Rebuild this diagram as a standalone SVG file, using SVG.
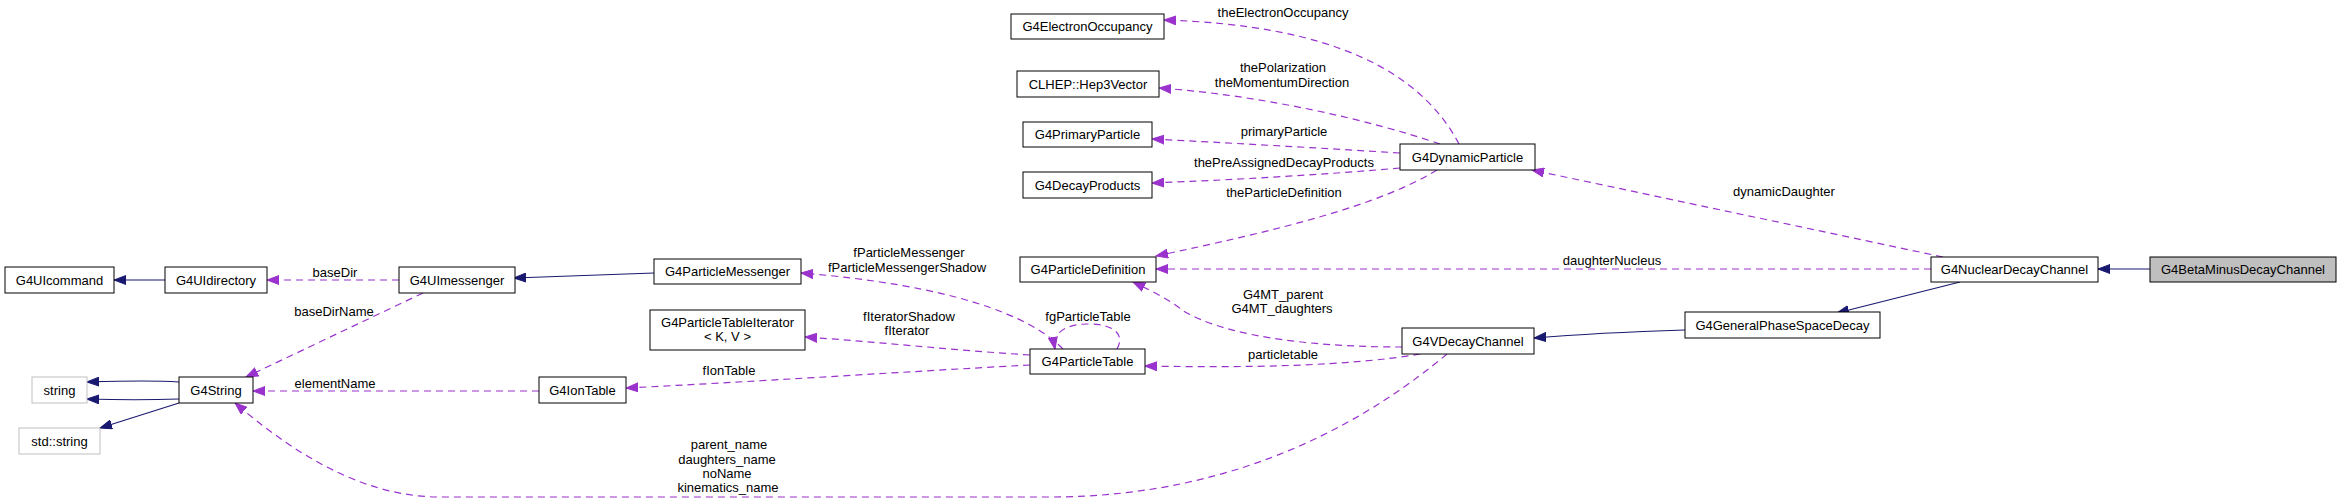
<svg xmlns="http://www.w3.org/2000/svg" width="2341" height="503" viewBox="0 0 2341 503">
<style>
text{font-family:"Liberation Sans",Arial,sans-serif;font-size:13px;fill:#000;text-anchor:middle}
.n rect{fill:#fff;stroke:#000;stroke-width:1}
.g rect{fill:#fff;stroke:#bfbfbf;stroke-width:1}
.cur rect{fill:#bfbfbf;stroke:#000;stroke-width:1}
.inh{fill:none;stroke:#191970;stroke-width:1.2;marker-end:url(#ab)}
.use{fill:none;stroke:#9a32cd;stroke-width:1.2;stroke-dasharray:7,5;marker-end:url(#ap)}
</style>
<defs>
<marker id="ab" markerWidth="13" markerHeight="10" refX="12" refY="5" orient="auto" markerUnits="userSpaceOnUse"><path d="M0,0.5 L12,5 L0,9.5 Z" fill="#191970" stroke="#191970"/></marker>
<marker id="ap" markerWidth="13" markerHeight="10" refX="12" refY="5" orient="auto" markerUnits="userSpaceOnUse"><path d="M0,0.5 L12,5 L0,9.5 Z" fill="#9a32cd" stroke="#9a32cd"/></marker>
</defs>
<rect width="2341" height="503" fill="#fff"/>
<g id="edges">
<path class="inh" d="M2150,269 L2098,269"/>
<path class="inh" d="M1960,282 L1837,313"/>
<path class="inh" d="M1685,330 C1620,332 1570,335 1534,338"/>
<path class="inh" d="M654,273 L514,278"/>
<path class="inh" d="M165,280 L114,280"/>
<path class="inh" d="M179,382 C150,380 120,381 87,382"/>
<path class="inh" d="M179,399 C150,400 120,400 87,399"/>
<path class="inh" d="M179,403 L100,428"/>
<path class="use" d="M399,280 L267,280"/>
<path class="use" d="M423,293 L246,377"/>
<path class="use" d="M539,391 L253,391"/>
<path class="use" d="M1447,354 C1380,410 1250,497 1050,497 L440,497 C360,497 290,450 235,403"/>
<path class="use" d="M1063,349 C1030,315 950,285 801,273"/>
<path class="use" d="M1030,355 C950,350 880,342 805,337"/>
<path class="use" d="M1030,365 C900,372 750,382 626,388"/>
<path class="use" d="M1117,349 C1125,335 1115,324 1088,324 C1065,324 1052,333 1055,349"/>
<path class="use" d="M1420,354 C1350,366 1250,368 1145,366"/>
<path class="use" d="M1402,347 C1330,347 1230,340 1182,310 C1170,300 1150,290 1133,282"/>
<path class="use" d="M1931,269 L1156,269"/>
<path class="use" d="M1943,257 L1532,170"/>
<path class="use" d="M1437,170 C1380,205 1280,230 1156,256"/>
<path class="use" d="M1400,168 C1320,175 1230,180 1152,183"/>
<path class="use" d="M1400,153 C1320,148 1230,143 1152,139"/>
<path class="use" d="M1440,144 C1370,120 1260,95 1159,88"/>
<path class="use" d="M1459,144 C1420,70 1330,25 1164,20"/>
<text x="335" y="277">baseDir</text>
<text x="334" y="316">baseDirName</text>
<text x="335" y="388">elementName</text>
<text x="909" y="257">fParticleMessenger</text>
<text x="907" y="272">fParticleMessengerShadow</text>
<text x="909" y="321">fIteratorShadow</text>
<text x="907" y="335">fIterator</text>
<text x="729" y="375">fIonTable</text>
<text x="1088" y="321">fgParticleTable</text>
<text x="1283" y="17">theElectronOccupancy</text>
<text x="1283" y="72">thePolarization</text>
<text x="1282" y="87">theMomentumDirection</text>
<text x="1284" y="136">primaryParticle</text>
<text x="1284" y="167">thePreAssignedDecayProducts</text>
<text x="1284" y="197">theParticleDefinition</text>
<text x="1283" y="299">G4MT_parent</text>
<text x="1282" y="313">G4MT_daughters</text>
<text x="1283" y="359">particletable</text>
<text x="1612" y="265">daughterNucleus</text>
<text x="1784" y="196">dynamicDaughter</text>
<text x="729" y="449">parent_name</text>
<text x="727" y="464">daughters_name</text>
<text x="727" y="478">noName</text>
<text x="728" y="492">kinematics_name</text>
</g>
<g id="G4BetaMinusDecayChannel" class="cur"><rect x="2150" y="257" width="186" height="25"/><text x="2243" y="274">G4BetaMinusDecayChannel</text></g>
<g id="G4NuclearDecayChannel" class="n"><rect x="1931" y="257" width="167" height="25"/><text x="2014.5" y="274">G4NuclearDecayChannel</text></g>
<g id="G4GeneralPhaseSpaceDecay" class="n"><rect x="1685" y="312" width="195" height="26"/><text x="1782.5" y="329.5">G4GeneralPhaseSpaceDecay</text></g>
<g id="G4VDecayChannel" class="n"><rect x="1402" y="328" width="132" height="26"/><text x="1468" y="345.5">G4VDecayChannel</text></g>
<g id="G4DynamicParticle" class="n"><rect x="1400" y="144" width="135" height="26"/><text x="1467.5" y="161.5">G4DynamicParticle</text></g>
<g id="G4ParticleDefinition" class="n"><rect x="1020" y="257" width="136" height="25"/><text x="1088" y="274">G4ParticleDefinition</text></g>
<g id="G4ParticleTable" class="n"><rect x="1030" y="349" width="115" height="25"/><text x="1087.5" y="366">G4ParticleTable</text></g>
<g id="G4ElectronOccupancy" class="n"><rect x="1011" y="14" width="153" height="25"/><text x="1087.5" y="31">G4ElectronOccupancy</text></g>
<g id="CLHEP_Hep3Vector" class="n"><rect x="1017" y="71" width="142" height="26"/><text x="1088" y="88.5">CLHEP::Hep3Vector</text></g>
<g id="G4PrimaryParticle" class="n"><rect x="1023" y="122" width="129" height="25"/><text x="1087.5" y="139">G4PrimaryParticle</text></g>
<g id="G4DecayProducts" class="n"><rect x="1023" y="172" width="129" height="26"/><text x="1087.5" y="189.5">G4DecayProducts</text></g>
<g id="G4ParticleMessenger" class="n"><rect x="654" y="259" width="147" height="25"/><text x="727.5" y="276">G4ParticleMessenger</text></g>
<g id="G4ParticleTableIterator" class="n"><rect x="650" y="310" width="155" height="40"/><text x="727.5" y="327">G4ParticleTableIterator</text><text x="727.5" y="341">&lt; K, V &gt;</text></g>
<g id="G4IonTable" class="n"><rect x="539" y="377" width="87" height="26"/><text x="582.5" y="394.5">G4IonTable</text></g>
<g id="G4UImessenger" class="n"><rect x="399" y="267" width="116" height="26"/><text x="457" y="284.5">G4UImessenger</text></g>
<g id="G4UIdirectory" class="n"><rect x="165" y="267" width="102" height="26"/><text x="216" y="284.5">G4UIdirectory</text></g>
<g id="G4UIcommand" class="n"><rect x="5" y="267" width="109" height="26"/><text x="59.5" y="284.5">G4UIcommand</text></g>
<g id="G4String" class="n"><rect x="179" y="377" width="74" height="26"/><text x="216" y="394.5">G4String</text></g>
<g id="string" class="g"><rect x="32" y="377" width="55" height="26"/><text x="59.5" y="394.5">string</text></g>
<g id="std_string" class="g"><rect x="19" y="428" width="81" height="26"/><text x="59.5" y="445.5">std::string</text></g>
</svg>
